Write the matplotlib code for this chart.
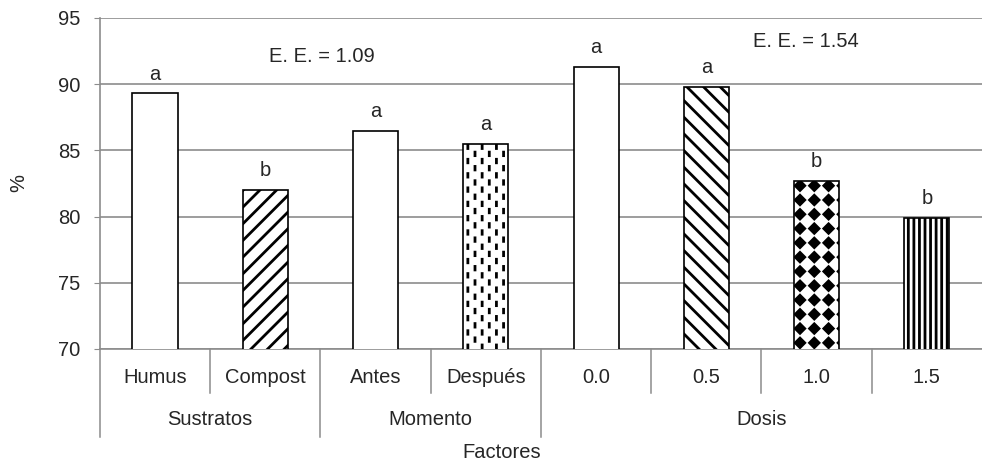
#!/usr/bin/env python3
"""Germinación (%) por factor: sustratos, momento y dosis (barras con tramas)."""
import numpy as np
import matplotlib
matplotlib.use("Agg")
import matplotlib.pyplot as plt
import matplotlib.hatch as mhatch
from matplotlib.path import Path

# --- data ---
categories = ["Humus", "Compost", "Antes", "Después", "0.0", "0.5", "1.0", "1.5"]
groups = ["Sustratos", "Momento", "Dosis"]
group_sizes = [2, 2, 4]
values = [89.3, 82.0, 86.5, 85.5, 91.3, 89.8, 82.7, 79.9]
letters = ["a", "b", "a", "a", "a", "a", "b", "b"]
ee_labels = ["E. E. = 1.09", "E. E. = 1.54"]
yticks = [70, 75, 80, 85, 90, 95]

# style per bar
HATCHES = ["", "//", "", ".", "", "\\\\", "*", "|||"]

GRID = "#8c8c8c"
TXT = "#262626"
FS = 14.5


class DashColumns(mhatch.HatchPatternBase):
    """'.' -> short vertical dashes in staggered columns."""
    def __init__(self, hatch, density):
        self.ncols = hatch.count(".") * 14
        self.nrows = 7
        self.num_vertices = self.ncols * self.nrows * 2

    def set_vertices_and_codes(self, vertices, codes):
        k = 0
        for i in range(self.ncols):
            x = (i + 0.5) / self.ncols
            off = 0.5 / self.nrows if i % 2 else 0.0
            for j in range(self.nrows):
                y0 = j / self.nrows + off + 0.015
                vertices[k] = (x, y0)
                vertices[k + 1] = (x, y0 + 0.035)
                codes[k] = Path.MOVETO
                codes[k + 1] = Path.LINETO
                k += 2


class Diamonds(mhatch.HatchPatternBase):
    """'*' -> filled diamonds on a square grid."""
    def __init__(self, hatch, density):
        self.n = hatch.count("*") * 7
        self.shape = Path.unit_regular_polygon(4)
        self.num_vertices = (self.n + 1) ** 2 * len(self.shape.vertices) if self.n else 0

    def set_vertices_and_codes(self, vertices, codes):
        step = 1.0 / self.n
        sv = self.shape.vertices * step * 0.33
        m = len(sv)
        k = 0
        for i in range(self.n + 1):
            for j in range(self.n + 1):
                vertices[k:k + m] = sv + [i * step, j * step]
                codes[k:k + m] = self.shape.codes
                k += m


# swap the small-dot and star hatches for the Excel-like patterns
mhatch._hatch_types = [DashColumns if t is mhatch.SmallFilledCircles else
                       Diamonds if t is mhatch.Stars else t
                       for t in mhatch._hatch_types]


def main() -> None:
    plt.rcParams["font.family"] = ["Liberation Sans", "DejaVu Sans"]
    plt.rcParams["font.size"] = FS
    plt.rcParams["hatch.linewidth"] = 2.0
    plt.rcParams["hatch.color"] = "black"

    fig = plt.figure(figsize=(9.82, 4.66), dpi=100)
    ax = fig.add_axes([0.1018, 0.2511, 0.8982, 0.7103])

    xs = np.arange(len(categories))
    for x, v, h in zip(xs, values, HATCHES):
        ax.bar(x, v, 0.41, color="white", edgecolor="black", linewidth=1.2,
               hatch=h, zorder=3)

    for x, v, t in zip(xs, values, letters):
        ax.annotate(t, (x, v), xytext=(0, 10), textcoords="offset points",
                    ha="center", va="baseline", fontsize=FS, color=TXT)

    ax.text(1.51, 92.1, ee_labels[0], ha="center", va="center", fontsize=FS, color=TXT)
    ax.text(5.90, 93.2, ee_labels[1], ha="center", va="center", fontsize=FS, color=TXT)

    ax.set_xlim(-0.5, len(categories) - 0.5)
    ax.set_ylim(yticks[0], yticks[-1])
    ax.set_yticks(yticks)
    ax.yaxis.grid(True, color=GRID, linewidth=1.2, zorder=0)
    ax.set_axisbelow(True)
    ax.tick_params(axis="y", length=4, color=GRID, pad=10, labelcolor=TXT, labelsize=FS)
    ax.tick_params(axis="x", bottom=False, labelbottom=False)
    for s in ("top", "right"):
        ax.spines[s].set_visible(False)
    for s in ("left", "bottom"):
        ax.spines[s].set_color(GRID)
        ax.spines[s].set_linewidth(1.2)

    # two-level category axis
    tr = ax.get_xaxis_transform()
    row1, row2 = -0.133, -0.266
    for x, c in zip(xs, categories):
        ax.text(x, -0.085, c, transform=tr, ha="center", va="center",
                fontsize=FS, color=TXT)
    edges = np.cumsum([0] + group_sizes) - 0.5
    for i in range(len(categories)):
        xb = i - 0.5
        y1 = row2 if xb in edges else row1
        ax.plot([xb, xb], [0, y1], transform=tr, color=GRID, lw=1.1, clip_on=False)
    for g, a, b in zip(groups, edges[:-1], edges[1:]):
        ax.text((a + b) / 2, -0.2145, g, transform=tr, ha="center", va="center",
                fontsize=FS, color=TXT)

    fig.text(0.511, 0.03, "Factores", ha="center", va="center", fontsize=FS, color=TXT)
    fig.text(0.019, 0.607, "%", ha="center", va="center", rotation=90,
             fontsize=FS, color=TXT)

    fig.savefig("out.png", dpi=100)
    plt.close(fig)


if __name__ == "__main__":
    main()
